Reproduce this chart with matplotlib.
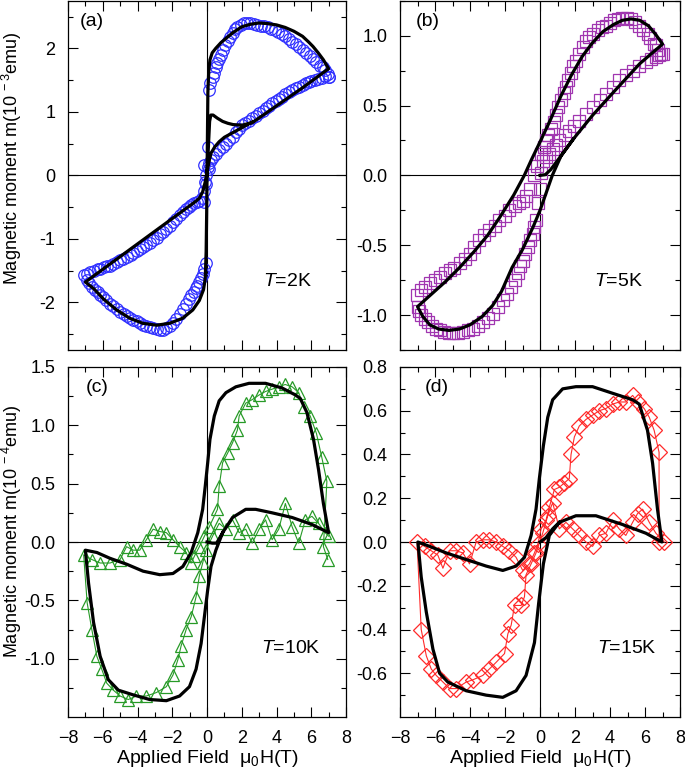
import matplotlib
matplotlib.use('Agg')
import matplotlib.pyplot as plt
from matplotlib.ticker import MultipleLocator, FixedLocator

plt.rcParams['font.family'] = ['Liberation Sans', 'DejaVu Sans']
plt.rcParams['mathtext.fontset'] = 'custom'
plt.rcParams['mathtext.rm'] = 'Liberation Sans'
plt.rcParams['mathtext.it'] = 'Liberation Sans:italic'
plt.rcParams['font.size'] = 14

# ---- (a) T=2K, data (circles) and fit ----
a_h = [7.05, 6.95, 6.8, 6.65, 6.5, 6.3, 6.1, 5.9, 5.7, 5.5, 5.3, 5.1, 4.9, 4.7, 4.5, 4.3, 4.1, 3.9, 3.7, 3.5, 3.3,
       3.1, 2.9, 2.7, 2.5, 2.3, 2.13, 1.95, 1.75, 1.6, 1.47, 1.33, 1.2, 1.05, 0.9, 0.8, 0.7, 0.6, 0.5, 0.4, 0.32,
       0.2, 0.1,
       0.04, -0.15, 0.1, -0.06, -0.15,
       -0.05, -0.15, -0.25, -0.35, -0.44, -0.55, -0.63, -0.75, -0.91, -1.05, -1.2, -1.4, -1.58, -1.78, -1.96,
       -2.15, -2.34, -2.53, -2.72, -2.9, -3.1, -3.3, -3.5, -3.7, -3.87, -4.05, -4.25, -4.44, -4.6, -4.8, -5.0,
       -5.2, -5.4, -5.58, -5.8, -6.0, -6.15, -6.3, -6.45, -6.63, -6.8, -6.9, -7.07,
       -6.9, -6.72, -6.5, -6.3, -6.15, -5.95, -5.75, -5.58, -5.4, -5.2, -5.0, -4.82, -4.6, -4.4, -4.25, -4.05,
       -3.87, -3.68, -3.5, -3.3, -3.1, -2.9, -2.7, -2.53, -2.35, -2.15, -1.96, -1.78, -1.58, -1.39, -1.2, -1.05,
       -0.91, -0.75, -0.6, -0.44, -0.3, -0.2, -0.1, -0.03,
       0.04, 0.12, 0.23, 0.35, 0.5, 0.7, 0.9, 1.1, 1.28, 1.47, 1.66, 1.85, 2.04, 2.2, 2.4, 2.6, 2.8, 3.0, 3.2,
       3.4, 3.56, 3.75, 3.95, 4.13, 4.3, 4.5, 4.7, 4.9, 5.1, 5.3, 5.5, 5.7, 5.85, 6.0, 6.2, 6.4, 6.6, 6.8, 7.05]
a_m = [1.55, 1.6, 1.66, 1.7, 1.73, 1.78, 1.83, 1.88, 1.93, 1.97, 2.02, 2.07, 2.1, 2.15, 2.19, 2.22, 2.26, 2.29,
       2.31, 2.33, 2.35, 2.36, 2.37, 2.39, 2.4, 2.4, 2.4, 2.37, 2.34, 2.3, 2.25, 2.18, 2.12, 2.05, 1.97, 1.9, 1.83,
       1.77, 1.7, 1.62, 1.55, 1.45, 1.34,
       0.45, 0.16, 0.1, -0.13, -0.42,
       -1.38, -1.47, -1.55, -1.62, -1.68, -1.74, -1.78, -1.83, -1.89, -1.95, -2.02, -2.1, -2.18, -2.26, -2.33,
       -2.37, -2.41, -2.43, -2.43, -2.42, -2.41, -2.39, -2.37, -2.35, -2.33, -2.3, -2.28, -2.25, -2.22, -2.19,
       -2.15, -2.11, -2.06, -2.02, -1.97, -1.92, -1.89, -1.84, -1.8, -1.76, -1.7, -1.65, -1.57,
       -1.55, -1.52, -1.5, -1.48, -1.47, -1.45, -1.43, -1.42, -1.39, -1.37, -1.34, -1.31, -1.28, -1.25, -1.23,
       -1.19, -1.16, -1.13, -1.09, -1.06, -1.02, -0.98, -0.93, -0.89, -0.84, -0.79, -0.73, -0.68, -0.63, -0.58,
       -0.53, -0.5, -0.47, -0.44, -0.42, -0.4, -0.35, -0.25, -0.1, 0.0,
       0.13, 0.19, 0.24, 0.29, 0.34, 0.4, 0.45, 0.5, 0.55, 0.61, 0.68, 0.73, 0.79, 0.82, 0.86, 0.9, 0.94, 0.98,
       1.02, 1.06, 1.1, 1.14, 1.17, 1.2, 1.24, 1.28, 1.31, 1.34, 1.37, 1.39, 1.42, 1.45, 1.47, 1.49, 1.5, 1.52,
       1.54, 1.56, 1.55]
a_fit_h = [0, 0.08, 0.15, 0.22, 0.35, 0.6, 0.9, 1.2, 1.5, 2.0, 2.6, 3.5, 4.5, 5.5, 6.3, 7.0,
           6.7, 6.4, 6.1, 5.85, 5.5, 5.0, 4.5, 4.0, 3.5, 3.0, 2.5, 2.0, 1.5, 1.1, 0.8, 0.5, 0.3, 0.17, 0.1, 0.05,
           0.02, -0.02, -0.05, -0.1, -0.2, -0.44, -0.82, -1.4, -2.15, -2.9, -3.7, -4.45, -5.2, -5.95, -6.5, -7.0,
           -6.0, -5.0, -4.0, -3.0, -2.0, -1.2, -0.7, -0.44, -0.25, -0.1, 0.0, 0.1, 0.23, 0.45, 0.7, 1.0, 1.47, 2.0, 2.6]
a_fit_m = [0.0, 0.45, 0.85, 0.95, 0.95, 0.9, 0.85, 0.82, 0.8, 0.79, 0.83, 1.0, 1.19, 1.38, 1.54, 1.68,
           1.82, 1.93, 2.03, 2.1, 2.19, 2.27, 2.33, 2.37, 2.39, 2.4, 2.38, 2.34, 2.25, 2.16, 2.09, 2.0, 1.93, 1.82, 1.65, 1.3,
           0.5, -0.6, -1.2, -1.62, -1.8, -1.97, -2.12, -2.25, -2.33, -2.36, -2.33, -2.25, -2.12, -1.95, -1.79, -1.68,
           -1.48, -1.28, -1.08, -0.88, -0.68, -0.52, -0.42, -0.36, -0.26, -0.1, 0.05, 0.2, 0.35, 0.45, 0.53, 0.6, 0.67, 0.75, 0.84]

# ---- (b) T=5K ----
b_h = [6.9, 6.75, 6.6, 6.5, 6.3, 6.14, 5.9, 5.67, 5.43, 5.19, 4.95, 4.7, 4.47, 4.24, 4.0, 3.76, 3.52, 3.29, 3.05,
       2.81, 2.62, 2.43, 2.24, 2.05, 1.9, 1.77, 1.62, 1.48, 1.34, 1.2, 1.05, 0.91, 0.77, 0.63, 0.48, 0.34, 0.2, 0.06,
       -0.2, -0.35, -0.55, -0.8, -1.0, -1.18, -1.45, -1.75, -2.0, -2.32, -2.6, -2.9, -3.2, -3.46, -3.75, -4.03,
       -4.3, -4.6, -4.9, -5.17, -5.45, -5.74, -6.0, -6.3, -6.55, -6.78, -7.03,
       -6.98, -6.9, -6.78, -6.6, -6.4, -6.15, -5.93, -5.7, -5.46, -5.22, -4.98, -4.7, -4.41, -4.12, -3.84, -3.55,
       -3.27, -3.0, -2.7, -2.42, -2.13, -1.9, -1.65, -1.45, -1.27, -1.12, -0.99, -0.85, -0.7, -0.56, -0.42, -0.32,
       -0.23, -0.13, 0.0,
       0.06, 0.15, 0.34, 0.53, 0.72, 0.9, 1.1, 1.4, 1.67, 1.95, 2.24, 2.6, 3.0, 3.4, 3.76, 4.14, 4.52, 4.9, 5.29,
       5.67, 6.05, 6.35, 6.6, 6.8, 7.0]
b_m = [0.87, 0.9, 0.93, 0.94, 0.98, 1.01, 1.04, 1.07, 1.1, 1.12, 1.13, 1.13, 1.12, 1.11, 1.09, 1.07, 1.06, 1.04, 1.01,
       0.99, 0.96, 0.92, 0.87, 0.82, 0.78, 0.73, 0.68, 0.63, 0.59, 0.54, 0.49, 0.43, 0.38, 0.33, 0.29, 0.25, 0.2, 0.15,
       0.07, 0.0, -0.1, -0.15, -0.18, -0.2, -0.22, -0.25, -0.29, -0.32, -0.36, -0.39, -0.43, -0.46, -0.51, -0.56,
       -0.6, -0.63, -0.66, -0.68, -0.7, -0.73, -0.75, -0.77, -0.8, -0.82, -0.86,
       -0.94, -0.97, -1.0, -1.03, -1.05, -1.08, -1.1, -1.11, -1.12, -1.13, -1.13, -1.13, -1.12, -1.11, -1.1, -1.08,
       -1.05, -1.02, -0.99, -0.94, -0.89, -0.85, -0.8, -0.75, -0.7, -0.65, -0.61, -0.56, -0.51, -0.46, -0.42, -0.37,
       -0.32, -0.2, -0.1,
       0.02, 0.1, 0.13, 0.15, 0.19, 0.22, 0.25, 0.29, 0.32, 0.35, 0.39, 0.44, 0.49, 0.54, 0.58, 0.63, 0.68, 0.72, 0.75,
       0.78, 0.81, 0.83, 0.85, 0.86, 0.87]
b_fit_h = [0, 0.3, 0.6, 0.9, 1.2,
           1.9, 3.0, 4.3, 5.7, 7.0,
           6.6, 6.2, 5.7, 5.2, 4.7, 4.2, 3.6, 3.0, 2.4, 1.8, 1.2, 0.6, 0.0, -0.5, -0.9, -1.5, -2.3, -3.0, -3.8, -4.6, -5.4, -6.2, -7.0,
           -6.7, -6.3, -5.8, -5.2, -4.6, -4.0, -3.3, -2.7, -2.2, -1.6, -1.0, -0.4, 0.0, 0.7, 1.2, 1.9]
b_fit_m = [0.0, 0.005, 0.04, 0.09, 0.14,
           0.26, 0.43, 0.61, 0.8, 0.94,
           1.01, 1.07, 1.11, 1.12, 1.11, 1.08, 1.03, 0.95, 0.85, 0.72, 0.57, 0.4, 0.24, 0.11, 0.0, -0.14, -0.3, -0.43, -0.55, -0.66, -0.76, -0.85, -0.94,
           -1.01, -1.07, -1.1, -1.11, -1.1, -1.07, -1.01, -0.93, -0.83, -0.66, -0.53, -0.37, -0.25, 0.0, 0.14, 0.26]

# ---- (c) T=10K ----
c_h = [6.95, 6.7, 6.9, 6.6, 6.3, 5.94, 5.56, 5.28, 4.9, 4.5, 4.13, 3.75, 3.37, 3.0, 2.6, 2.23, 1.85, 1.75, 1.47, 1.18, 0.9,
       0.7, 0.6, 0.13, -0.15, -0.44, -0.72, -0.91, -1.2, -1.58, -1.96, -2.34, -2.72, -3.1, -3.49, -3.87, -4.25, -4.63, -5.0,
       -5.58, -6.15, -6.63, -7.1,
       -6.9, -6.63, -6.34, -6.06, -5.77, -5.39, -5.0, -4.53, -4.06, -3.49, -2.91, -2.34, -1.96, -1.68, -1.49, -1.2, -0.91,
       -0.63, -0.44, -0.25, -0.06, 0.32, 0.7, 1.09, 1.47, 1.85, 2.23, 2.6, 3.0, 3.37, 3.75, 4.13, 4.51, 4.9, 5.28, 5.66,
       6.04, 6.42, 6.8, 7.0]
c_m = [-0.15, -0.04, 0.52, 0.73, 0.93, 1.08, 1.16, 1.28, 1.33, 1.35, 1.33, 1.31, 1.29, 1.26, 1.22, 1.19, 1.08, 0.96, 0.85, 0.76, 0.68,
       0.48, 0.28, 0.13, 0.05, -0.04, -0.12, -0.18, -0.09, -0.04, 0.02, 0.08, 0.09, 0.11, 0.02, -0.07, -0.07, -0.04, -0.15,
       -0.18, -0.18, -0.15, -0.11,
       -0.52, -0.75, -0.98, -1.09, -1.21, -1.27, -1.32, -1.35, -1.32, -1.32, -1.29, -1.24, -1.14, -1.01, -0.89, -0.75, -0.64,
       -0.47, -0.29, -0.18, -0.07, 0.05, 0.16, 0.11, 0.19, 0.08, 0.11, -0.01, 0.11, 0.19, 0.02, 0.11, 0.33, 0.13, -0.01, 0.19,
       0.22, 0.16, 0.08, 0.05]
c_fit_h = [0, 0.3, 0.55, 0.75, 0.9,
           1.47, 2.23, 2.8, 3.75, 4.9, 6.04, 7.0,
           6.7, 6.42, 6.13, 5.75, 5.37, 5.09, 4.32, 3.37, 2.42, 1.66, 1.09, 0.7, 0.42, 0.17, 0.04, -0.1, -0.25, -0.53, -0.91,
           -1.39, -1.96, -2.72, -3.68, -4.63, -5.58, -6.34, -7.0,
           -6.82, -6.53, -6.15, -5.68, -5.1, -4.25, -3.3, -2.34, -1.58, -1.01, -0.63, -0.34, -0.15, 0.04, 0.23, 0.51, 0.9]
c_fit_m = [0.0, -0.01, -0.01, 0.04, 0.08,
           0.21, 0.28, 0.28, 0.25, 0.21, 0.15, 0.08,
           0.33, 0.62, 0.88, 1.11, 1.23, 1.26, 1.32, 1.36, 1.36, 1.33, 1.28, 1.21, 1.08, 0.88, 0.68, 0.48, 0.28, 0.08, -0.09,
           -0.21, -0.27, -0.28, -0.25, -0.19, -0.14, -0.09, -0.07,
           -0.35, -0.69, -0.98, -1.18, -1.27, -1.31, -1.35, -1.36, -1.32, -1.24, -1.09, -0.87, -0.64, -0.41, -0.21, -0.07, 0.08]

# ---- (d) T=15K ----
d_h = [6.8, 6.8, 6.52, 6.24, 5.95, 5.57, 5.29, 4.9, 4.52, 4.14, 3.76, 3.38, 3.0, 2.62, 2.24, 1.96, 1.77, 1.67, 1.39, 1.1,
       0.82, 0.53, 0.34, 0.06, -0.13, -0.32, -0.61, -0.99, -1.37, -1.75, -2.13, -2.51, -2.89, -3.27, -3.65, -4.03, -4.41,
       -4.79, -5.17, -5.55, -5.84, -6.22, -6.6, -7.03,
       -6.79, -6.5, -6.22, -5.93, -5.55, -5.17, -4.79, -4.22, -3.84, -3.27, -2.89, -2.51, -2.03, -1.84, -1.65, -1.46, -1.08,
       -0.89, -0.8, -0.51, -0.23, 0.15, 0.44, 0.72, 1.1, 1.48, 1.86, 2.24, 2.62, 3.0, 3.38, 3.76, 4.14, 4.52, 4.9, 5.29,
       5.57, 5.86, 6.24, 6.62, 7.1]
d_m = [0.0, 0.41, 0.51, 0.57, 0.61, 0.64, 0.67, 0.64, 0.64, 0.63, 0.61, 0.6, 0.58, 0.56, 0.53, 0.48, 0.4, 0.29, 0.27, 0.25,
       0.24, 0.16, 0.1, 0.06, -0.01, -0.05, -0.1, -0.13, -0.07, -0.04, -0.02, 0.0, 0.01, 0.01, 0.0, -0.1, -0.05,
       -0.04, -0.04, -0.12, -0.06, -0.04, -0.02, 0.0,
       -0.4, -0.52, -0.58, -0.61, -0.64, -0.67, -0.67, -0.64, -0.63, -0.61, -0.58, -0.55, -0.51, -0.42, -0.38, -0.29, -0.29,
       -0.25, -0.15, -0.1, -0.05, 0.04, 0.12, 0.18, 0.06, 0.09, 0.06, 0.03, 0.0, -0.02, 0.03, 0.04, 0.1, 0.06, 0.03, 0.09,
       0.13, 0.15, 0.09, 0.04, 0.0]
d_fit_h = [0, 0.34, 0.72, 1.1,
           2.05, 3.19, 4.71, 6.05, 6.96,
           6.71, 6.43, 6.14, 5.67, 5.29, 4.14, 3.0, 2.05, 1.29, 0.72, 0.44, 0.19, -0.04, -0.23, -0.51, -0.89, -1.37, -2.13,
           -3.08, -4.22, -5.36, -6.31, -6.98,
           -6.79, -6.5, -6.12, -5.74, -5.27, -4.22, -3.08, -2.13, -1.37, -0.8, -0.32, -0.08, 0.19, 0.53, 1.1]
d_fit_m = [0.0, 0.02, 0.06, 0.09,
           0.12, 0.12, 0.08, 0.04, 0.0,
           0.15, 0.36, 0.51, 0.63, 0.65, 0.68, 0.71, 0.71, 0.7, 0.65, 0.57, 0.44, 0.29, 0.15, 0.03, -0.07, -0.11, -0.13,
           -0.11, -0.08, -0.05, -0.02, 0.0,
           -0.16, -0.32, -0.49, -0.6, -0.64, -0.68, -0.7, -0.71, -0.68, -0.61, -0.46, -0.28, -0.1, 0.03, 0.09]

panels = [
    dict(h=a_h, m=a_m, fh=a_fit_h, fm=a_fit_m, color='#3030ff', marker='o', ms=8.3, ylim=(-2.75, 2.75),
         major=[-2, -1, 0, 1, 2], minor=[-2.5, -1.5, -0.5, 0.5, 1.5, 2.5], fmt='{:.0f}',
         tag='(a)', temp='2K', rect=[0.0993, 0.5455, 0.4058, 0.4535], line=False, tagx=0.085, tempx=0.79),
    dict(h=b_h, m=b_m, fh=b_fit_h, fm=b_fit_m, color='#a035b0', marker='s', ms=8.3, ylim=(-1.25, 1.25),
         major=[-1.0, -0.5, 0.0, 0.5, 1.0], minor=[-1.25, -0.75, -0.25, 0.25, 0.75, 1.25], fmt='{:.1f}',
         tag='(b)', temp='5K', rect=[0.584, 0.5455, 0.4088, 0.4535], line=False, tagx=0.1, tempx=0.78),
    dict(h=c_h, m=c_m, fh=c_fit_h, fm=c_fit_m, color='#279a27', marker='^', ms=9, ylim=(-1.5, 1.5),
         major=[-1.0, -0.5, 0.0, 0.5, 1.0, 1.5], minor=[-1.25, -0.75, -0.25, 0.25, 0.75, 1.25], fmt='{:.1f}',
         tag='(c)', temp='10K', rect=[0.0993, 0.0688, 0.4058, 0.4546], line=True, tagx=0.105, tempx=0.80),
    dict(h=d_h, m=d_m, fh=d_fit_h, fm=d_fit_m, color='#ff2a2a', marker='D', ms=8.5, ylim=(-0.8, 0.8),
         major=[-0.6, -0.4, -0.2, 0.0, 0.2, 0.4, 0.6, 0.8], minor=[-0.7, -0.5, -0.3, -0.1, 0.1, 0.3, 0.5, 0.7],
         fmt='{:.1f}', tag='(d)', temp='15K', rect=[0.584, 0.0688, 0.4088, 0.4546], line=True, tagx=0.13, tempx=0.81),
]

fig = plt.figure(figsize=(6.85, 7.7), dpi=100)

for i, p in enumerate(panels):
    ax = fig.add_axes(p['rect'])
    ax.axhline(0, color='black', lw=0.8, zorder=1)
    ax.axvline(0, color='black', lw=0.8, zorder=1)
    ax.plot(p['h'], p['m'], marker=p['marker'], ms=p['ms'], mfc='none', mec=p['color'], mew=0.9,
            color=p['color'], lw=0.8 if p['line'] else 0, zorder=2)
    ax.plot(p['fh'], p['fm'], color='black', lw=2.3, zorder=3, solid_joinstyle='round')

    ax.set_xlim(-8, 8)
    ax.set_ylim(*p['ylim'])
    ax.xaxis.set_major_locator(MultipleLocator(2))
    ax.xaxis.set_minor_locator(MultipleLocator(1))
    ax.yaxis.set_major_locator(FixedLocator(p['major']))
    ax.yaxis.set_minor_locator(FixedLocator(p['minor']))
    ax.set_yticklabels([p['fmt'].format(v).replace('-0.0', '0.0') for v in p['major']])
    ax.tick_params(which='both', direction='in', top=True, right=True, labelsize=13)
    ax.tick_params(which='major', length=7, width=0.8)
    ax.tick_params(which='minor', length=3.5, width=0.8)
    ax.tick_params(axis='x', pad=9)
    ax.tick_params(axis='y', pad=9)
    for s in ax.spines.values():
        s.set_linewidth(0.9)

    if i < 2:
        ax.set_xticklabels([])
    else:
        ax.set_xlabel('Applied Field  μ$_0$H(T)', fontsize=14, labelpad=1)

    if i == 0:
        ax.set_ylabel('Magnetic moment m(10$^{\\ -3}$emu)', fontsize=13)
        ax.yaxis.set_label_coords(-0.158, 0.55)
    elif i == 2:
        ax.set_ylabel('Magnetic moment m(10$^{\\ -4}$emu)', fontsize=13)
        ax.yaxis.set_label_coords(-0.158, 0.53)

    ax.text(p['tagx'], 0.94, p['tag'], transform=ax.transAxes, fontsize=14, ha='center', va='center')
    ax.text(p['tempx'], 0.195, '$T$=' + p['temp'], transform=ax.transAxes, fontsize=14, ha='center', va='center')

fig.savefig('out.png', dpi=100)
